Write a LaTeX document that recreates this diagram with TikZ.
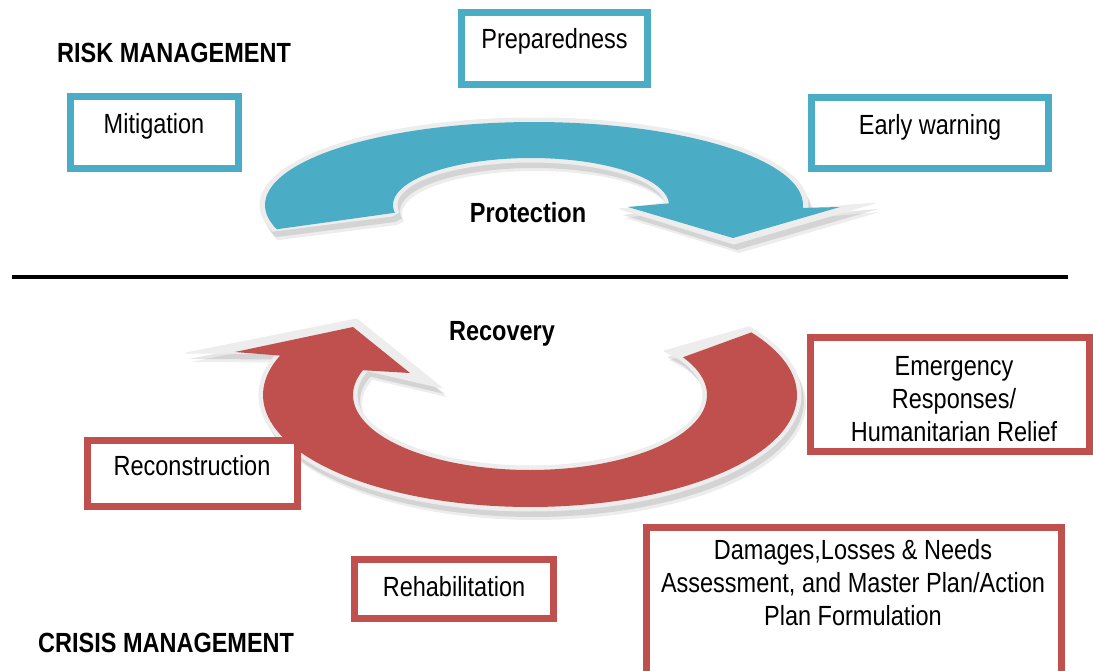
\documentclass[tikz,border=0pt]{standalone}
\usepackage{fontspec}
\setmainfont{Liberation Sans}
\definecolor{cblue}{HTML}{4BACC6}
\definecolor{cred}{HTML}{C0504D}
\definecolor{rim}{HTML}{EDEDED}
\newcommand\vs[1]{\scalebox{1}[1.18]{#1}}
\newcommand\ml[1]{\vs{\begin{tabular}[t]{@{}c@{}}#1\end{tabular}}}
% coloured shapes
\newcommand\bluearrow[1]{\path[#1] plot[domain=197:-2,samples=90] ({534+269*cos(\x)},{205-83*sin(\x)}) -- (840,207) -- (733,238) -- (628,207) -- plot[domain=2:189.5,samples=90] ({531+138*cos(\x)},{205-47*sin(\x)}) -- cycle;}
\newcommand\redarrow[1]{\path[#1] plot[domain=34:-200.6,samples=110] ({530+267*cos(\x)},{395-112*sin(\x)}) -- (235,352) -- (353,327) -- (410,373) -- plot[domain=160.7:390.2,samples=110] ({530+177*cos(\x)},{395-75*sin(\x)}) -- cycle;}
% rims (slightly larger, with longer barbs)
\newcommand\bluerim[1]{\path[#1] plot[domain=197.5:-2.5,samples=90] ({534+274*cos(\x)},{205-87*sin(\x)}) -- (875,203) -- (734,244) -- (620,209) -- plot[domain=3:190,samples=90] ({531+134*cos(\x)},{205-43*sin(\x)}) -- (392,216) -- cycle;}
\newcommand\redrim[1]{\path[#1] plot[domain=36:-201,samples=110] ({530+271*cos(\x)},{395-116*sin(\x)}) -- (186,353) -- (357,319) -- (442,388) -- plot[domain=160:391,samples=110] ({530+173*cos(\x)},{395-71*sin(\x)}) -- (664,351) -- cycle;}
\begin{document}
\begin{tikzpicture}[x=1pt,y=-1pt,
  txt/.style={inner sep=0pt, font=\fontsize{23.5}{28}\selectfont},
  hd/.style={inner sep=0pt, font=\fontsize{23.5}{28}\selectfont\bfseries},
  bbox/.style={draw=cblue, line width=7pt, fill=white, inner sep=0pt},
  rbox/.style={draw=cred, line width=7pt, fill=white, inner sep=0pt},
  rimfill/.style={fill=rim, draw=rim, line width=1pt, line join=round}]
\useasboundingbox (0,0) rectangle (1093,670);
\clip (0,0) rectangle (1093,670);
\fill[white] (0,0) rectangle (1093,670);

% blue protection arrow
\bluerim{fill=black, opacity=0.10, shift={(3,6)}}
\bluerim{fill=black, opacity=0.07, shift={(5,9)}}
\bluerim{rimfill}
\bluearrow{fill=cblue}

% red recovery arrow
\redrim{fill=black, opacity=0.10, shift={(3,6)}}
\redrim{fill=black, opacity=0.07, shift={(5,9)}}
\redrim{rimfill}
\redarrow{fill=cred}

% divider
\coordinate (l1) at (12,277);
\coordinate (l2) at (1068,277);
\draw[line width=4pt] (l1) -- (l2);

% headings
\node[hd, anchor=base west] (risk) at (57,62) {\vs{RISK MANAGEMENT}};
\node[hd, anchor=base west] (crisis) at (38,652) {\vs{CRISIS MANAGEMENT}};
\node[hd, anchor=base] (prot) at (528,222) {\vs{Protection}};
\node[hd, anchor=base] (recov) at (502,340) {\vs{Recovery}};

% blue boxes
\node[bbox, minimum width=186pt, minimum height=72pt] (prep) at (554.5,48.5) {};
\node[txt, anchor=base] (prept) at (554.5,48) {\vs{Preparedness}};
\node[bbox, minimum width=168pt, minimum height=72pt] (mit) at (154.5,132.5) {};
\node[txt, anchor=base] (mitt) at (154,133) {\vs{Mitigation}};
\node[bbox, minimum width=237pt, minimum height=71pt] (early) at (930,133) {};
\node[txt, anchor=base] (earlyt) at (930,134) {\vs{Early warning}};

% red boxes
\node[rbox, minimum width=279pt, minimum height=114pt] (emerg) at (950,394.5) {};
\node[txt, anchor=base] (emergt) at (954,375) {\ml{Emergency\\Responses/\\Humanitarian Relief}};
\node[rbox, minimum width=210pt, minimum height=66pt] (recon) at (192.5,473.5) {};
\node[txt, anchor=base] (recont) at (192,475) {\vs{Reconstruction}};
\node[rbox, minimum width=199pt, minimum height=59pt] (rehab) at (454,589) {};
\node[txt, anchor=base] (rehabt) at (454,596) {\vs{Rehabilitation}};
\node[rbox, minimum width=415pt, minimum height=159pt] (dam) at (854,607) {};
\node[txt, anchor=base] (damt) at (853,559) {\ml{Damages,Losses \& Needs\\Assessment, and Master Plan/Action\\Plan Formulation}};
\end{tikzpicture}
\end{document}
